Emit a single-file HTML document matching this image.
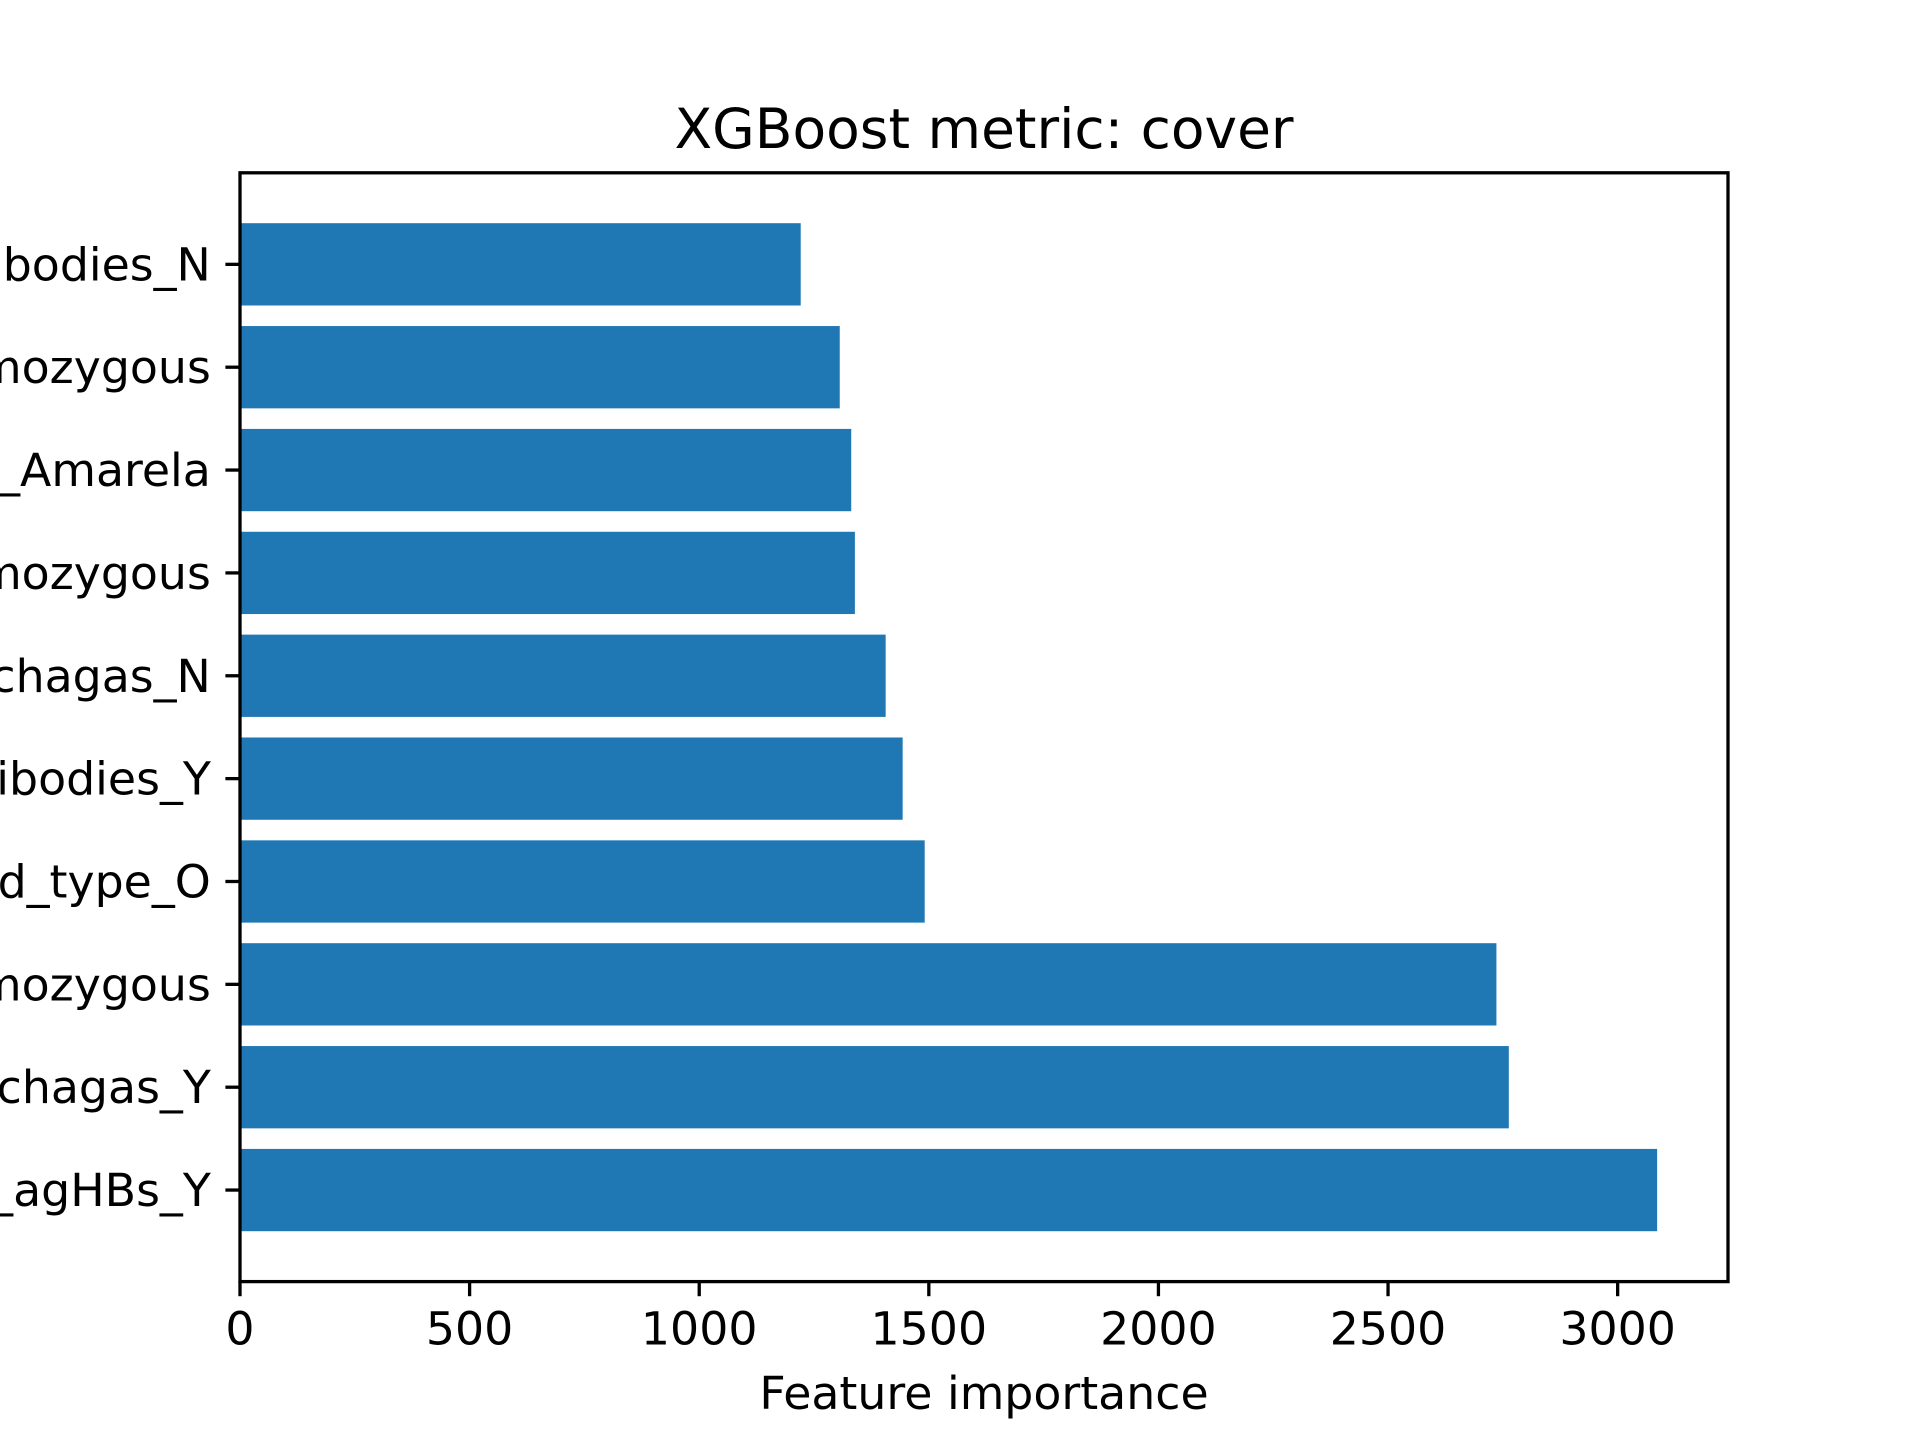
<!DOCTYPE html>
<html><head><meta charset="utf-8"><style>
html,body{margin:0;padding:0;background:#fff;}
svg{display:block;font-family:"DejaVu Sans","Liberation Sans",sans-serif;}
</style></head><body>
<svg id="chart" width="1920" height="1440" viewBox="0 0 1920 1440">
<text x="984" y="148" font-size="55" text-anchor="middle">XGBoost metric: cover</text>
<g id="bars"></g>
<g id="yticks"></g>
<g id="xticks"></g>
<rect x="240" y="172.8" width="1488" height="1108.8" fill="none" stroke="#000" stroke-width="3.3"/>
<text x="984" y="1409" font-size="45.8" text-anchor="middle">Feature importance</text>
</svg>
<script>
const categories = ["HBV_agHBs_Y","anti_chagas_Y","HLA_homozygous","blood_type_O","antibodies_Y","anti_chagas_N","gene_homozygous","raça_Amarela","KIR_homozygous","antibodies_N"];
const values = [3086,2763,2736,1491,1443,1406,1339,1331,1306,1221];
const xTicks = [0,500,1000,1500,2000,2500,3000];

const NS = "http://www.w3.org/2000/svg";
const L=240,R=1728,T=172.8,B=1281.6;
const xMax = Math.max(...values)*1.05;
const yMin = -0.4 - 0.049*categories.length, yMax = categories.length-1+0.4+0.049*categories.length;
function xs(v){return L+(v/xMax)*(R-L);}
function ys(v){return B-(v-yMin)/(yMax-yMin)*(B-T);}
function mk(tag,attrs,parent){const e=document.createElementNS(NS,tag);for(const k in attrs)e.setAttribute(k,attrs[k]);parent.appendChild(e);return e;}
const gb=document.getElementById('bars'),gy=document.getElementById('yticks'),gx=document.getElementById('xticks');
const unit=(B-T)/(yMax-yMin);
values.forEach((v,i)=>{
  const r=mk('rect',{x:xs(0),y:ys(i)-0.4*unit,width:xs(v)-xs(0),height:0.8*unit,fill:'#1f77b4'},gb);
  
  
  const tk=mk('line',{x1:L-14.6,x2:L,y1:ys(i),y2:ys(i),stroke:'#000','stroke-width':3.3},gy);
  
  
  const t=mk('text',{x:L-29.2,y:ys(i)+16,'font-size':45.8,'text-anchor':'end'},gy);
  t.textContent=categories[i];
  
  
});
xTicks.forEach(v=>{
  const tk=mk('line',{x1:xs(v),x2:xs(v),y1:B,y2:B+14.6,stroke:'#000','stroke-width':3.3},gx);
  
  
  const t=mk('text',{x:xs(v),y:B+63,'font-size':45.8,'text-anchor':'middle'},gx);
  t.textContent=v;
  
  
});
</script>
</body></html>
